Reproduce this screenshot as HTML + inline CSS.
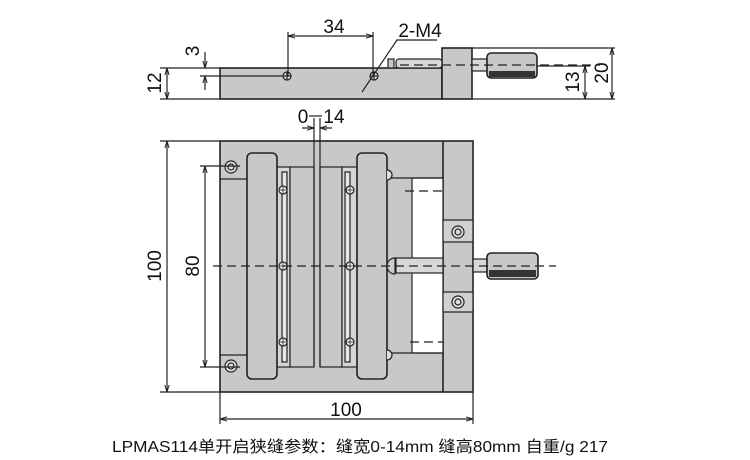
<!DOCTYPE html>
<html><head><meta charset="utf-8"><style>
html,body{margin:0;padding:0;background:#fff;width:750px;height:460px;overflow:hidden}
svg{display:block}
text{font-family:"Liberation Sans",Arial,sans-serif;fill:#111}
</style></head><body>
<svg width="750" height="460" viewBox="0 0 750 460" xmlns="http://www.w3.org/2000/svg">
<defs>
<marker id="a" viewBox="0 0 10 10" refX="10" refY="5" markerWidth="6" markerHeight="6" orient="auto-start-reverse"><path d="M0,2 L10,5 L0,8" fill="none" stroke="#222" stroke-width="1.4"/></marker>
</defs>
<g stroke="#222" stroke-width="1.2" fill="none">
<!-- ===== TOP (side) VIEW ===== -->
<rect x="220" y="68" width="222" height="31" fill="#c8c8c8" stroke-width="1.6"/>
<rect x="442" y="48" width="30" height="51" fill="#c8c8c8" stroke-width="1.6"/>
<rect x="388" y="59" width="6" height="9" fill="#c8c8c8"/>
<rect x="396" y="59" width="46" height="9" rx="3" fill="#d8d8d8"/>
<rect x="472" y="59" width="15" height="12" fill="#d8d8d8"/>
<rect x="487" y="53" width="50" height="25" rx="4" fill="#c8c8c8" stroke-width="1.6"/>
<rect x="489" y="71" width="46" height="6" fill="#333" stroke="none"/>
<line x1="400" y1="65" x2="600" y2="65" stroke-dasharray="9,5"/>
<circle cx="287" cy="76" r="4" fill="#ddd"/><line x1="283" y1="76" x2="291" y2="76"/><line x1="287" y1="72" x2="287" y2="80"/>
<circle cx="374" cy="76" r="4" fill="#ddd"/><line x1="370" y1="76" x2="378" y2="76"/><line x1="374" y1="72" x2="374" y2="80"/>
<!-- 12 -->
<line x1="160" y1="68" x2="220" y2="68"/><line x1="160" y1="99" x2="220" y2="99"/>
<line x1="167" y1="68" x2="167" y2="99" marker-start="url(#a)" marker-end="url(#a)"/>
<!-- 3 -->
<line x1="200" y1="76" x2="283" y2="76"/>
<line x1="205" y1="52" x2="205" y2="68" marker-end="url(#a)"/>
<line x1="205" y1="90" x2="205" y2="76" marker-end="url(#a)"/>
<!-- 34 -->
<line x1="288" y1="32" x2="288" y2="76"/><line x1="373" y1="32" x2="373" y2="76"/>
<line x1="288" y1="36" x2="373" y2="36" marker-start="url(#a)" marker-end="url(#a)"/>
<!-- 2-M4 -->
<polyline points="362,92 397,40 437,40"/>
<!-- 13 / 20 -->
<line x1="472" y1="48" x2="615" y2="48"/>
<line x1="537" y1="66" x2="590" y2="66"/>
<line x1="472" y1="99" x2="615" y2="99"/>
<line x1="585" y1="66" x2="585" y2="99" marker-start="url(#a)" marker-end="url(#a)"/>
<line x1="612" y1="48" x2="612" y2="99" marker-start="url(#a)" marker-end="url(#a)"/>
<!-- 0-14 -->
<line x1="302" y1="128" x2="314" y2="128" marker-end="url(#a)"/>
<line x1="332" y1="128" x2="320" y2="128" marker-end="url(#a)"/>
<line x1="309" y1="116" x2="322" y2="116"/>

<!-- ===== FRONT VIEW ===== -->
<rect x="220" y="141" width="253" height="251" fill="#c8c8c8" stroke-width="1.6"/>
<line x1="443" y1="141" x2="443" y2="392" stroke-width="1.6"/>
<rect x="412" y="178" width="31" height="175" fill="#fff"/>
<line x1="387" y1="178" x2="443" y2="178"/>
<line x1="387" y1="353" x2="443" y2="353"/>
<line x1="220" y1="179" x2="247" y2="179"/>
<line x1="220" y1="355" x2="247" y2="355"/>
<rect x="443" y="220" width="30" height="22" fill="#d0d0d0"/>
<rect x="443" y="292" width="30" height="20" fill="#d0d0d0"/>
<rect x="277" y="167" width="13" height="200" fill="#d6d6d6"/>
<rect x="282" y="172" width="5" height="190" fill="#e6e6e6"/>
<rect x="290" y="167" width="24" height="200" fill="#c8c8c8"/>
<rect x="320" y="167" width="22" height="200" fill="#c8c8c8"/>
<rect x="342" y="167" width="15" height="200" fill="#d6d6d6"/>
<rect x="345" y="172" width="5" height="190" fill="#e6e6e6"/>
<line x1="314" y1="118" x2="314" y2="367"/><line x1="320" y1="118" x2="320" y2="367"/>
<rect x="247" y="153" width="30" height="226" rx="5" fill="#c8c8c8" stroke-width="1.6"/>
<rect x="357" y="153" width="30" height="226" rx="5" fill="#c8c8c8" stroke-width="1.6"/>
<path d="M387,170 a5,5 0 0 1 0,10 M387,350 a5,5 0 0 1 0,10" fill="#ddd"/>
<g fill="#ddd">
<circle cx="231" cy="167" r="6"/><circle cx="231" cy="167" r="3"/>
<circle cx="231" cy="366" r="6"/><circle cx="231" cy="366" r="3"/>
<circle cx="458" cy="232" r="6"/><circle cx="458" cy="232" r="3"/>
<circle cx="458" cy="302" r="6"/><circle cx="458" cy="302" r="3"/>
</g>
<g fill="#eee">
<circle cx="283" cy="190" r="4"/><circle cx="283" cy="266" r="4"/><circle cx="283" cy="342" r="4"/>
<circle cx="350" cy="190" r="4"/><circle cx="350" cy="266" r="4"/><circle cx="350" cy="342" r="4"/>
</g>
<g stroke-width="0.8">
<path d="M280,190h6M283,187v6M280,266h6M283,263v6M280,342h6M283,339v6M347,190h6M350,187v6M347,266h6M350,263v6M347,342h6M350,339v6"/>
</g>
<path d="M395,258 a8,8 0 0 0 0,16 z" fill="#ccc"/>
<rect x="396" y="258" width="47" height="15" fill="#d8d8d8"/>
<rect x="473" y="259" width="14" height="13" fill="#d8d8d8"/>
<rect x="487" y="253" width="51" height="26" rx="4" fill="#c8c8c8" stroke-width="1.6"/>
<rect x="489" y="270" width="47" height="7" fill="#333" stroke="none"/>
<line x1="213" y1="266" x2="556" y2="266" stroke-dasharray="9,5"/>
<line x1="405" y1="191" x2="443" y2="191" stroke-dasharray="9,5"/>
<line x1="410" y1="342" x2="443" y2="342" stroke-dasharray="9,5"/>
<line x1="160" y1="141" x2="220" y2="141"/><line x1="160" y1="392" x2="220" y2="392"/>
<line x1="167" y1="141" x2="167" y2="392" marker-start="url(#a)" marker-end="url(#a)"/>
<line x1="200" y1="166" x2="240" y2="166"/><line x1="200" y1="367" x2="240" y2="367"/>
<line x1="205" y1="166" x2="205" y2="367" marker-start="url(#a)" marker-end="url(#a)"/>
<line x1="220" y1="392" x2="220" y2="424"/><line x1="473" y1="392" x2="473" y2="424"/>
<line x1="220" y1="419" x2="473" y2="419" marker-start="url(#a)" marker-end="url(#a)"/>
</g>
<g font-size="19">
<text x="334" y="33" text-anchor="middle">34</text>
<text x="420" y="37" text-anchor="middle">2-M4</text>
<text x="303" y="123" text-anchor="middle">0</text>
<text x="334" y="123" text-anchor="middle">14</text>
<text x="346" y="416" text-anchor="middle">100</text>
<text transform="translate(161,83) rotate(-90)" text-anchor="middle">12</text>
<text transform="translate(199,51) rotate(-90)" text-anchor="middle">3</text>
<text transform="translate(579,82) rotate(-90)" text-anchor="middle">13</text>
<text transform="translate(608,73) rotate(-90)" text-anchor="middle">20</text>
<text transform="translate(161,266) rotate(-90)" text-anchor="middle">100</text>
<text transform="translate(199,266) rotate(-90)" text-anchor="middle">80</text>
</g>
<text x="112" y="452" font-size="16" textLength="496" lengthAdjust="spacingAndGlyphs" style="font-family:'Liberation Sans','Noto Sans CJK SC',sans-serif">LPMAS114单开启狭缝参数：缝宽0-14mm 缝高80mm 自重/g 217</text>
</svg>
</body></html>
